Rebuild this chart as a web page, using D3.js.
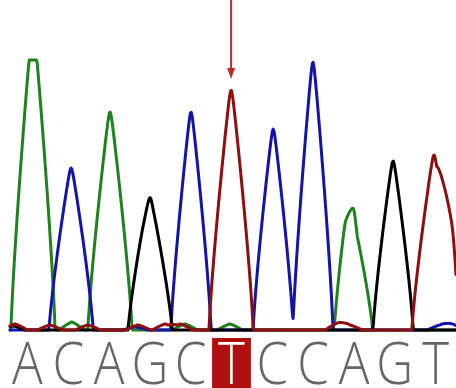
<!DOCTYPE html>
<html><head><meta charset="utf-8">
<script src="https://cdn.jsdelivr.net/npm/d3@7"></script>
<style>html,body{margin:0;padding:0;background:#fff;}svg{display:block;}</style>
</head><body>
<svg id="c" width="456" height="388"></svg>
<script>
// ---- data ----
const bases = ["A","C","A","G","C","T","C","C","A","G","T"];
const highlightIndex = 5;
// main peaks: channel, position (base units), height (signal units), half-width (base units)
const peakChannel = ["A","C","A","G","C","T","C","C","A","A","G","T","T"];
const peakPos     = [0.0, 0.95, 1.92, 2.92, 3.94, 4.94, 5.99, 6.98, 8.0, 7.78, 8.98, 10.0, 10.47];
const peakHeight  = [305, 162, 218, 131, 218, 240, 201, 268, 106, 40, 169, 175, 60];
const peakWidth   = [0.55, 0.55, 0.55, 0.55, 0.5, 0.55, 0.5, 0.5, 0.47, 0.3, 0.5, 0.55, 0.4];
// small baseline noise bumps
const noiseChannel = ["T","T","T","T","T","T","T","T","A","A","A","C","C","G","G","C"];
const noisePos     = [-0.45, 0.42, 1.37, 2.62, 3.29, 3.67, 7.6, 7.9, 0.97, 3.79, 4.91, 10.15, 10.45, -0.5, 2.7, 2.55];
const noiseHeight  = [6, 5, 5, 5, 6, 6, 7, 5, 8, 6, 6, 5, 6, 4, 4, 3];
const channelColor = {A:"#1f821f", C:"#1414a8", G:"#000000", T:"#8e0f0f"};

// ---- layout ----
const svg = d3.select("#c");
const W = 456;
const x = d3.scaleLinear().domain([0, 10]).range([33, 434]);
const y = d3.scaleLinear().domain([0, 270]).range([330, 60]).clamp(true);
const letterX = d3.scaleBand().domain(d3.range(bases.length)).range([7, 456]);

const peaks = peakPos.map((p,i)=>({ch:peakChannel[i], pos:p, h:peakHeight[i], w:peakWidth[i]}))
  .concat(noisePos.map((p,i)=>({ch:noiseChannel[i], pos:p, h:noiseHeight[i], w:0.3})));

const t0 = x.invert(10), t1 = x.invert(W);
const ts = d3.range(t0, t1 + 0.001, 0.02);
const eps = 0.06;
function signal(ch, t){
  let s = 0;
  peaks.forEach(p=>{
    if(p.ch!==ch) return;
    const d0 = Math.abs(t-p.pos)/p.w;
    const d = (Math.sqrt(d0*d0+eps*eps)-eps)/(Math.sqrt(1+eps*eps)-eps);
    if(d<1){ s += p.h*Math.pow(1-d,0.82); }
  });
  return s;
}
const line = d3.line().x(d=>x(d[0])).y(d=>y(d[1])).curve(d3.curveLinear);

const order = ["A","C","G","T"];
svg.append("g").selectAll("path").data(order).join("path")
  .attr("d", ch => line(ts.map(t=>[t, signal(ch,t)])))
  .attr("fill","none")
  .attr("stroke", ch=>channelColor[ch])
  .attr("stroke-width",3)
  .attr("stroke-linejoin","round")
  .attr("stroke-linecap","round");

// ---- base letters ----
const g = svg.append("g");
g.append("rect")
  .attr("x", letterX(highlightIndex)+1).attr("y",338)
  .attr("width", letterX.bandwidth()-2).attr("height",50)
  .attr("fill","#b00f0f");
g.selectAll("text").data(bases).join("text")
  .attr("transform",(d,i)=>`translate(${letterX(i)+letterX.bandwidth()/2},384) scale(0.88,1)`)
  .attr("text-anchor","middle")
  .attr("font-family","'Open Sans', 'DejaVu Sans', sans-serif")
  .attr("font-weight",300)
  .attr("font-size",58)
  .attr("fill",(d,i)=> i===highlightIndex ? "#ffffff" : "#666666")
  .text(d=>d);

// ---- arrow marking the highlighted peak ----
const ax = x(peakPos[5]);
svg.append("line").attr("x1",ax).attr("x2",ax).attr("y1",0).attr("y2",72)
  .attr("stroke","#c0282a").attr("stroke-width",2);
svg.append("path")
  .attr("d",`M${ax-4},68 L${ax+4},68 L${ax},79 Z`)
  .attr("fill","#c0282a");
</script>
</body></html>
